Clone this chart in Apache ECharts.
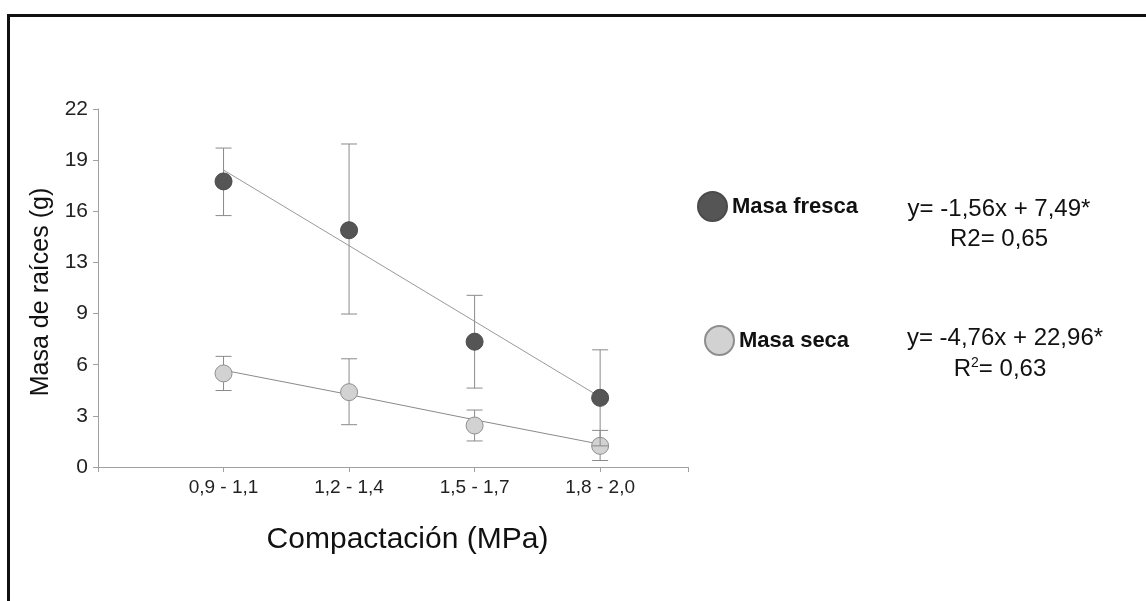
<!DOCTYPE html>
<html>
<head>
<meta charset="utf-8">
<script src="https://cdn.jsdelivr.net/npm/echarts@6/dist/echarts.min.js"></script>
<style>html,body{margin:0;padding:0;background:#fff;}#c{width:1146px;height:601px;}</style>
</head>
<body>
<div id="c"></div>
<script>
var categories = ['0,9 - 1,1', '1,2 - 1,4', '1,5 - 1,7', '1,8 - 2,0'];
var yTickLabels = ['0', '3', '6', '9', '13', '16', '19', '22'];
var frescaMean = [17.55, 14.55, 7.7, 4.25];
var frescaLow  = [15.45, 9.4, 4.85, 1.3];
var frescaHigh = [19.6, 19.85, 10.55, 7.2];
var secaMean = [5.75, 4.6, 2.55, 1.3];
var secaLow  = [4.7, 2.6, 1.6, 0.4];
var secaHigh = [6.8, 6.65, 3.5, 2.25];
var frescaTrend = [18.25, 13.6, 8.95, 4.3];
var secaTrend = [5.95, 4.45, 2.9, 1.4];
var eqFresca = ['y= -1,56x + 7,49*', 'R2= 0,65'];
var eqSeca = ['y= -4,76x + 22,96*', 'R{sup|2}= 0,63'];

var FONT = "'Liberation Sans', Arial, Helvetica, sans-serif";
var chart = echarts.init(document.getElementById('c'), null, {renderer: 'canvas'});

function pts(arr) { return arr.map(function (v, i) { return [i, v]; }); }
function bars(lo, hi) { return lo.map(function (v, i) { return [i, v, hi[i]]; }); }

function errRender(params, api) {
  var x = api.value(0);
  var lo = api.coord([x, api.value(1)]);
  var hi = api.coord([x, api.value(2)]);
  var w = 8;
  var st = {stroke: '#8a8a8a', lineWidth: 1};
  return {
    type: 'group',
    children: [
      {type: 'line', shape: {x1: lo[0], y1: lo[1], x2: hi[0], y2: hi[1]}, style: st},
      {type: 'line', shape: {x1: lo[0] - w, y1: lo[1], x2: lo[0] + w, y2: lo[1]}, style: st},
      {type: 'line', shape: {x1: hi[0] - w, y1: hi[1], x2: hi[0] + w, y2: hi[1]}, style: st}
    ]
  };
}

var step = 22 / 7;

chart.setOption({
  backgroundColor: '#ffffff',
  animation: false,
  textStyle: {fontFamily: FONT},
  grid: {left: 98, right: 458, top: 109, bottom: 134},
  legend: [
    {data: ['Masa fresca'], left: 697, top: 191, padding: 0, orient: 'vertical', selectedMode: false,
     icon: 'circle', itemWidth: 29, itemHeight: 29, itemGap: 4,
     textStyle: {fontFamily: FONT, fontSize: 22, fontWeight: 'bold', color: '#111'}},
    {data: ['Masa seca'], left: 704, top: 325, padding: 0, orient: 'vertical', selectedMode: false,
     icon: 'circle', itemWidth: 29, itemHeight: 29, itemGap: 4,
     textStyle: {fontFamily: FONT, fontSize: 22, fontWeight: 'bold', color: '#111'}}
  ],
  xAxis: {
    type: 'value', min: -1, max: 3.7, interval: 1,
    splitLine: {show: false},
    axisLine: {show: true, onZero: false, lineStyle: {color: '#a0a0a0', width: 1}},
    axisTick: {show: true, length: 5, lineStyle: {color: '#a0a0a0'}},
    axisLabel: {
      margin: 11, fontSize: 19, color: '#222', fontFamily: FONT,
      formatter: function (v) { var r = Math.round(v); return (r >= 0 && Math.abs(v - r) < 1e-6 && categories[r] !== undefined) ? categories[r] : ''; }
    },
    name: 'Compactación (MPa)', nameLocation: 'middle', nameGap: 58,
    nameTextStyle: {fontSize: 30, color: '#111', fontFamily: FONT, padding: [0, 0, 0, 29]}
  },
  yAxis: {
    type: 'value', min: 0, max: 22, interval: step,
    splitLine: {show: false},
    axisLine: {show: true, onZero: false, lineStyle: {color: '#a0a0a0', width: 1}},
    axisTick: {show: true, length: 5, lineStyle: {color: '#a0a0a0'}},
    axisLabel: {
      margin: 10, fontSize: 21, color: '#222', fontFamily: FONT,
      formatter: function (v) { var i = Math.round(v / step); return yTickLabels[i] !== undefined ? yTickLabels[i] : ''; }
    },
    name: 'Masa de raíces (g)', nameLocation: 'middle', nameGap: 37,
    nameTextStyle: {fontSize: 25, color: '#111', fontFamily: FONT, padding: [0, 8, 0, 0]}
  },
  series: [
    {name: 'trendFresca', type: 'line', data: pts(frescaTrend), showSymbol: false, symbol: 'none',
     lineStyle: {color: '#9a9a9a', width: 1}, z: 1, silent: true},
    {name: 'trendSeca', type: 'line', data: pts(secaTrend), showSymbol: false, symbol: 'none',
     lineStyle: {color: '#8a8a8a', width: 1}, z: 1, silent: true},
    {name: 'errSeca', type: 'custom', renderItem: errRender, data: bars(secaLow, secaHigh), z: 2, silent: true},
    {name: 'Masa seca', type: 'scatter', data: pts(secaMean), symbolSize: 17, z: 3,
     itemStyle: {color: '#d2d2d2', borderColor: '#8e8e8e', borderWidth: 1, opacity: 1}},
    {name: 'errFresca', type: 'custom', renderItem: errRender, data: bars(frescaLow, frescaHigh), z: 4, silent: true},
    {name: 'Masa fresca', type: 'scatter', data: pts(frescaMean), symbolSize: 17, z: 5,
     itemStyle: {color: '#555555', borderColor: '#4a4a4a', borderWidth: 1, opacity: 1}}
  ],
  graphic: [
    {type: 'line', shape: {x1: 7, y1: 15.5, x2: 1146, y2: 15.5}, style: {stroke: '#111', lineWidth: 3}, z: 100},
    {type: 'line', shape: {x1: 8.5, y1: 14, x2: 8.5, y2: 601}, style: {stroke: '#111', lineWidth: 3}, z: 100},
    {type: 'text', x: 999, y: 209, style: {text: eqFresca[0], x: 0, y: 0, fill: '#111', font: '24px ' + FONT, textAlign: 'center', textVerticalAlign: 'middle'}},
    {type: 'text', x: 999, y: 239, style: {text: eqFresca[1], x: 0, y: 0, fill: '#111', font: '24px ' + FONT, textAlign: 'center', textVerticalAlign: 'middle'}},
    {type: 'text', x: 1005, y: 338, style: {text: eqSeca[0], x: 0, y: 0, fill: '#111', font: '24px ' + FONT, textAlign: 'center', textVerticalAlign: 'middle'}},
    {type: 'text', x: 1000, y: 369, style: {text: eqSeca[1], x: 0, y: 0, fill: '#111', fontSize: 24, fontFamily: FONT, textAlign: 'center', textVerticalAlign: 'middle',
      rich: {sup: {fontSize: 14, fontFamily: FONT, fill: '#111', padding: [0, 0, 12, 0]}}}}
  ]
});
</script>
</body>
</html>
